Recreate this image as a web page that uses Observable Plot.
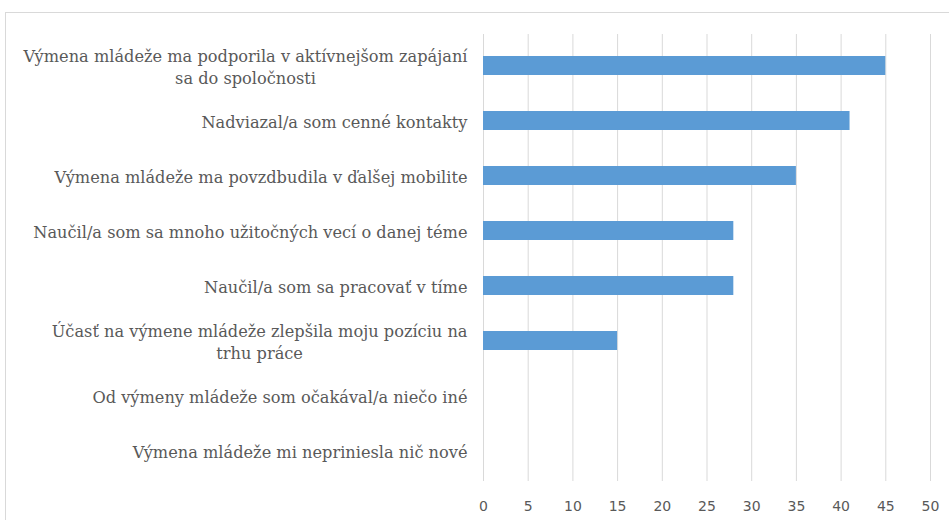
<!DOCTYPE html>
<html>
<head>
<meta charset="utf-8">
<script src="https://cdn.jsdelivr.net/npm/d3@7"></script>
<script src="https://cdn.jsdelivr.net/npm/@observablehq/plot@0.6"></script>
<style>
  html, body { margin: 0; padding: 0; background: #fff; }
  #wrap { position: relative; width: 949px; height: 520px; overflow: hidden; }
  #border { position: absolute; left: 5px; top: 12px; width: 960px; height: 540px; border-left: 1px solid #d9d9d9; border-top: 1px solid #d9d9d9; }
  #chart { position: absolute; left: 0; top: 0; }
</style>
</head>
<body>
<div id="wrap"><div id="border"></div><div id="chart"></div></div>
<script>
const categories = [
  "Výmena mládeže ma podporila v aktívnejšom zapájaní\nsa do spoločnosti",
  "Nadviazal/a som cenné kontakty",
  "Výmena mládeže ma povzdbudila v ďalšej mobilite",
  "Naučil/a som sa mnoho užitočných vecí o danej téme",
  "Naučil/a som sa pracovať v tíme",
  "Účasť na výmene mládeže zlepšila moju pozíciu na\ntrhu práce",
  "Od výmeny mládeže som očakával/a niečo iné",
  "Výmena mládeže mi nepriniesla nič nové"
];
const values = [45, 41, 35, 28, 28, 15, 0, 0];
const xTicks = [0, 5, 10, 15, 20, 25, 30, 35, 40, 45, 50];

const data = categories.map((c, i) => ({label: c, value: values[i]}));

const labelSize = 16.2;
const ctx = document.createElement("canvas").getContext("2d");
ctx.font = `${labelSize}px 'DejaVu Serif'`;
const widthOf = (s) => d3.max(s.split("\n"), l => ctx.measureText(l).width);

const labelMarks = categories.map(c =>
  Plot.text([c], {
    x: () => 0,
    y: d => d,
    text: d => d,
    textAnchor: "middle",
    dx: -(16 + widthOf(c) / 2),
    lineHeight: 1.36,
    fontSize: labelSize,
    fontFamily: "DejaVu Serif",
    fill: "#595959"
  })
);

const chart = Plot.plot({
  width: 949,
  height: 520,
  marginTop: 34,
  marginBottom: 39,
  marginLeft: 483,
  marginRight: 19,
  style: {background: "transparent", fontFamily: "DejaVu Sans"},
  x: {domain: [0, 50], ticks: xTicks, label: null},
  y: {domain: categories, paddingInner: 0.66, paddingOuter: 0.33, axis: null, label: null},
  marks: [
    Plot.gridX(xTicks, {stroke: "#d9d9d9", strokeOpacity: 1, strokeWidth: 1}),
    Plot.barX(data, {x: "value", y: "label", fill: "#5b9bd5"}),
    Plot.axisX({ticks: xTicks, tickSize: 0, tickPadding: 20, fontSize: 14, fill: "#595959", label: null}),
    ...labelMarks
  ]
});
document.getElementById("chart").appendChild(chart);
</script>
</body>
</html>
